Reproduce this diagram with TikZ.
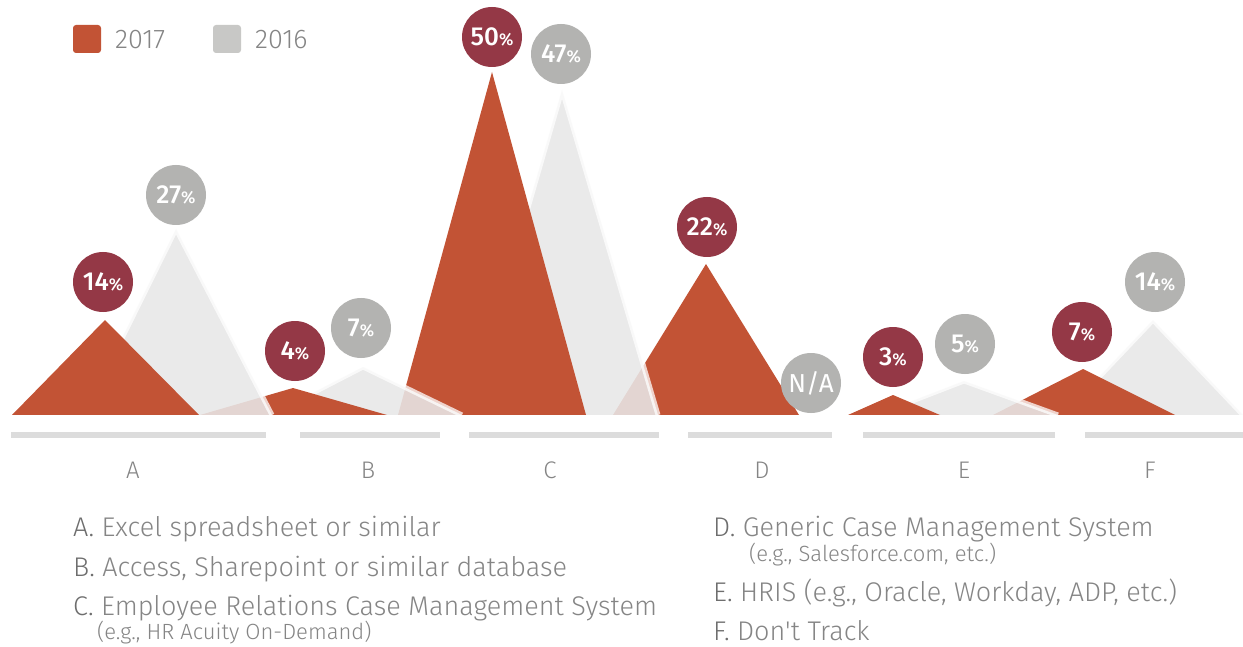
\documentclass[tikz,border=0pt]{standalone}
\usepackage{fontspec}
\setmainfont{Fira Sans}[UprightFont=* Light, BoldFont=* Medium, Ligatures=TeXOff]
\newfontfamily\regfont{Fira Sans}
\definecolor{org}{HTML}{C25335}
\definecolor{tri}{HTML}{E8E8E8}
\definecolor{bubA}{HTML}{943846}
\definecolor{bubB}{HTML}{B3B3B1}
\definecolor{barc}{HTML}{DCDCDC}
\definecolor{keyg}{HTML}{C8C8C6}
\definecolor{txtc}{HTML}{858585}
\definecolor{txtd}{HTML}{6E6E6E}
\newcommand\pctlab[1]{#1{\fontsize{17pt}{17pt}\selectfont\%}}
\begin{document}
\begin{tikzpicture}[x=1pt,y=-1pt,
  gtri/.style={fill=tri, fill opacity=0.88},
  gedge/.style={draw=white, draw opacity=0.75, line width=5pt, line join=miter},
  otri/.style={fill=org},
  bubnew/.style={circle, fill=bubA, minimum size=60pt, inner sep=0pt, text=white,
     font=\bfseries\fontsize{26pt}{26pt}\selectfont},
  bubold/.style={circle, fill=bubB, minimum size=60pt, inner sep=0pt, text=white,
     font=\bfseries\fontsize{26pt}{26pt}\selectfont},
  axbar/.style={fill=barc},
  axlab/.style={text=txtc, anchor=base, inner sep=0pt, font=\fontsize{24pt}{24pt}\selectfont},
  keybox/.style={fill=#1, rounded corners=3pt, minimum size=28pt, inner sep=0pt},
  keytxt/.style={text=txtc, anchor=base west, inner sep=0pt, font=\fontsize{27pt}{27pt}\selectfont},
  itm/.style={text=txtc, anchor=base west, inner sep=0pt, font=\fontsize{27pt}{27pt}\selectfont},
  sub/.style={text=txtc, anchor=base west, inner sep=0pt, font=\fontsize{22pt}{22pt}\selectfont}
]
\useasboundingbox (0,0) rectangle (1243,647);
\fill[white] (0,0) rectangle (1243,647);

% group F
\fill[gtri] (1063,415) -- (1153,320) -- (1243,415) -- cycle;
\draw[gedge] (1063,415) -- (1153,320) -- (1243,415);
\fill[otri] (993,415) -- (1083,369) -- (1175,415) -- cycle;
% group E
\fill[gtri] (876,415) -- (964,381) -- (1058,415) -- cycle;
\draw[gedge] (876,415) -- (964,381) -- (1058,415);
\fill[otri] (848,415) -- (893,395) -- (940,415) -- cycle;
% group D
\fill[otri] (613,415) -- (706,264) -- (799,415) -- cycle;
% group C
\fill[gtri] (468,415) -- (562,90) -- (658,415) -- cycle;
\draw[gedge] (468,415) -- (562,90) -- (658,415);
\fill[otri] (398,415) -- (492,72) -- (586,415) -- cycle;
% group B
\fill[gtri] (270,415) -- (363,367) -- (462,415) -- cycle;
\draw[gedge] (270,415) -- (363,367) -- (462,415);
\fill[otri] (200,415) -- (293,388) -- (387,415) -- cycle;
% group A
\fill[gtri] (84,415) -- (176,229) -- (272,415) -- cycle;
\draw[gedge] (84,415) -- (176,229) -- (272,415);
\fill[otri] (12,415) -- (105,320) -- (199,415) -- cycle;

% clean baseline
\fill[white] (0,415) rectangle (1243,425);

% bubbles
\node[bubnew] (pA17) at (103,282) {\pctlab{14}};
\node[bubold] (pA16) at (176,195) {\pctlab{27}};
\node[bubnew] (pB17) at (295,351) {\pctlab{4}};
\node[bubold] (pB16) at (361,328) {\pctlab{7}};
\node[bubnew] (pC17) at (492,37) {\pctlab{50}};
\node[bubold] (pC16) at (561,54) {\pctlab{47}};
\node[bubnew] (pD17) at (707,227) {\pctlab{22}};
\node[bubold,font=\regfont\fontsize{26pt}{26pt}\selectfont] (pD16) at (811,383) {N/A};
\node[bubnew] (pE17) at (893,357) {\pctlab{3}};
\node[bubold] (pE16) at (965,344) {\pctlab{5}};
\node[bubnew] (pF17) at (1082,332) {\pctlab{7}};
\node[bubold] (pF16) at (1155,282) {\pctlab{14}};

% axis bars
\fill[axbar] (11,432) rectangle (266,438);
\fill[axbar] (300,432) rectangle (440,438);
\fill[axbar] (469,432) rectangle (659,438);
\fill[axbar] (688,432) rectangle (832,438);
\fill[axbar] (863,432) rectangle (1055,438);
\fill[axbar] (1085,432) rectangle (1243,438);

% axis labels
\node[axlab] (lA) at (133,478) {A};
\node[axlab] (lB) at (368,478) {B};
\node[axlab] (lC) at (550,478) {C};
\node[axlab] (lD) at (762,478) {D};
\node[axlab] (lE) at (964,478) {E};
\node[axlab] (lF) at (1150,478) {F};

% key
\node[keybox=org] (k17) at (87,39) {};
\node[keytxt] (t17) at (115,49) {2017};
\node[keybox=keyg] (k16) at (227,39) {};
\node[keytxt] (t16) at (255,49) {2016};

% item list
\node[itm] (iA) at (73,536) {\textcolor{txtd}{A.} Excel spreadsheet or similar};
\node[itm] (iB) at (73,576) {\textcolor{txtd}{B.} Access, Sharepoint or similar database};
\node[itm] (iC) at (73,615) {\textcolor{txtd}{C.} Employee Relations Case Management System};
\node[sub] (iCs) at (97,639) {(e.g., HR Acuity On-Demand)};
\node[itm] (iD) at (713,536) {\textcolor{txtd}{D.} Generic Case Management System};
\node[sub] (iDs) at (749,561) {(e.g., Salesforce.com, etc.)};
\node[itm] (iE) at (713,601) {\textcolor{txtd}{E.} HRIS (e.g., Oracle, Workday, ADP, etc.)};
\node[itm] (iF) at (713,640) {\textcolor{txtd}{F.} Don't Track};
\end{tikzpicture}
\end{document}
